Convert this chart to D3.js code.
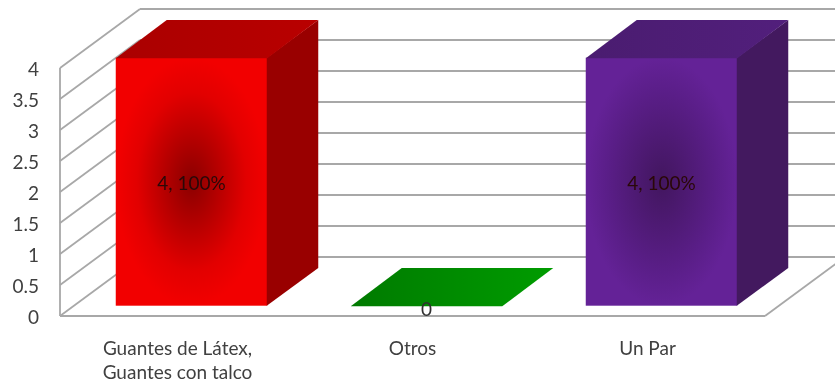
<!DOCTYPE html>
<html><head><meta charset="utf-8">
<script src="https://cdn.jsdelivr.net/npm/d3@7"></script>
<style>html,body{margin:0;padding:0;background:#fff;overflow:hidden}svg{display:block;filter:blur(0.45px)}text{font-family:Lato,"Open Sans",sans-serif}</style>
</head><body><svg id="c" width="835" height="383"></svg>
<script>
const categories = ["Guantes de Látex,|Guantes con talco", "Otros", "Un Par"];
const values = [4, 0, 4];
const dataLabels = ["4, 100%", "0", "4, 100%"];
const yTicks = [0, 0.5, 1, 1.5, 2, 2.5, 3, 3.5, 4];
const frontColors = [["#8a0000", "#e20000", "#f20000"], ["#008000", "#008000", "#008000"], ["#42165f", "#5a1e88", "#642297"]];
const topColors = [["#aa0000", "#b90000"], ["#007a00", "#009c00"], ["#4a1c70", "#521f7c"]];
const sideColors = ["#990000", "#007000", "#43195f"];

const W = 835, H = 383;
const svg = d3.select("#c");
const defs = svg.append("defs");
const y = d3.scaleLinear().domain([0, 4]).range([316, 68]);
const x = d3.scaleBand().domain(d3.range(categories.length)).range([60, 765]);
const wall = {dx: 80, dy: -59};
const depth = {dx: 51, dy: -37.7};
const barW = 151.5, shift = {dx: 14, dy: -10.3};
const grey = "#a8a8a8";

// walls and gridlines
const g = svg.append("g").attr("fill", "none").attr("stroke", grey).attr("stroke-width", 1.8);
yTicks.forEach(t => {
  g.append("line").attr("x1", 60).attr("y1", y(t)).attr("x2", 60 + wall.dx).attr("y2", y(t) + wall.dy);
  g.append("line").attr("x1", 60 + wall.dx).attr("y1", y(t) + wall.dy).attr("x2", W + 4).attr("y2", y(t) + wall.dy);
});
g.append("line").attr("x1", 60).attr("y1", y(4)).attr("x2", 60).attr("y2", y(0));
g.append("line").attr("x1", 60).attr("y1", y(0)).attr("x2", 765).attr("y2", y(0));
g.append("line").attr("x1", 765).attr("y1", y(0)).attr("x2", 765 + wall.dx).attr("y2", y(0) + wall.dy);

// y axis
const yAxis = d3.axisLeft(y).tickValues(yTicks).tickSize(0).tickPadding(21).tickFormat(d3.format("~g"));
const ya = svg.append("g").attr("transform", "translate(60,1)").call(yAxis);
ya.select(".domain").remove();
ya.selectAll("text").attr("font-size", 19).attr("fill", "#404040").style("font-family", "Lato");

// bars
const poly = pts => pts.map(p => p.join(",")).join(" ");
values.forEach((v, i) => {
  const x0 = x(i) + (x.bandwidth() - barW) / 2 + shift.dx;
  const x1 = x0 + barW;
  const yb = y(0) + shift.dy, yt = y(v) + shift.dy;
  const fid = "f" + i, tid = "t" + i;
  const rg = defs.append("radialGradient").attr("id", fid).attr("cx", .5).attr("cy", .5).attr("r", .5);
  [[0, 0], [.72, 1], [1, 2]].forEach(s => rg.append("stop").attr("offset", s[0]).attr("stop-color", frontColors[i][s[1]]));
  const lg = defs.append("linearGradient").attr("id", tid);
  topColors[i].forEach((c, k) => lg.append("stop").attr("offset", k).attr("stop-color", c));
  const b = svg.append("g");
  if (v > 0) {
    b.append("rect").attr("x", x0).attr("y", yt).attr("width", barW).attr("height", yb - yt).attr("fill", `url(#${fid})`);
    b.append("polygon").attr("points", poly([[x1 - .5, yt], [x1 + depth.dx, yt + depth.dy], [x1 + depth.dx, yb + depth.dy], [x1 - .5, yb]])).attr("fill", sideColors[i]);
  }
  b.append("polygon").attr("points", poly([[x0, yt + .5], [x0 + depth.dx, yt + depth.dy], [x1 + depth.dx, yt + depth.dy], [x1, yt + .5]])).attr("fill", `url(#${tid})`);
  const cy = v > 0 ? (yt + yb) / 2 + 1 : yb + 3;
  svg.append("text").attr("x", (x0 + x1) / 2).attr("y", cy).attr("dy", "0.36em").attr("text-anchor", "middle")
    .attr("font-size", 19).attr("fill", v > 0 ? "#2a0808" : "#303030").text(dataLabels[i]);
});

// category labels
categories.forEach((c, i) => {
  const t = svg.append("text").attr("text-anchor", "middle").attr("font-size", 19).attr("fill", "#404040");
  c.split("|").forEach((line, k) => t.append("tspan").attr("x", x(i) + x.bandwidth() / 2).attr("y", 355 + k * 24).text(line));
});
</script></body></html>
